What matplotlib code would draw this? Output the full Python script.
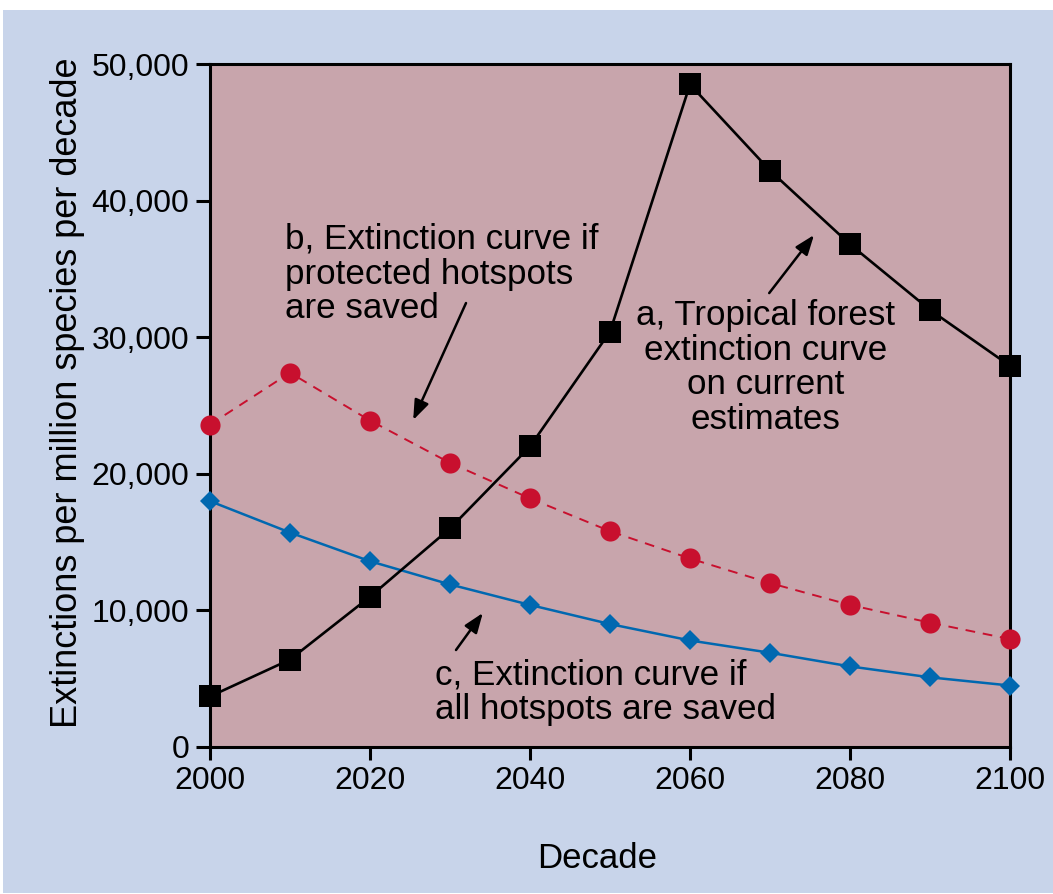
import matplotlib
matplotlib.use("Agg")
import matplotlib.pyplot as plt
from matplotlib.patches import Rectangle
from matplotlib.ticker import FuncFormatter

plt.rcParams['font.family'] = ['Liberation Sans', 'DejaVu Sans']

decades = [2000, 2010, 2020, 2030, 2040, 2050, 2060, 2070, 2080, 2090, 2100]
tropical_current = [3700, 6400, 11000, 16000, 22000, 30400, 48500, 42200, 36800, 32000, 27900]
protected_saved = [23600, 27400, 23900, 20800, 18200, 15800, 13800, 12000, 10400, 9100, 7900]
all_saved = [18000, 15700, 13600, 11900, 10400, 9000, 7800, 6900, 5900, 5100, 4500]

x_ticks = [2000, 2020, 2040, 2060, 2080, 2100]
y_ticks = [0, 10000, 20000, 30000, 40000, 50000]

label_a = "a, Tropical forest\nextinction curve\non current\nestimates"
label_b = "b, Extinction curve if\nprotected hotspots\nare saved"
label_c = "c, Extinction curve if\nall hotspots are saved"

W, H = 1053, 894
fig = plt.figure(figsize=(W / 100, H / 100), dpi=100)
fig.patch.set_facecolor('white')
fig.patches.append(Rectangle((3 / W, 1 / H), 1 - 3 / W, (893 - 10) / H,
                             transform=fig.transFigure, facecolor='#C8D4EA',
                             edgecolor='none', zorder=-10))

ax = fig.add_axes([210 / W, 1 - 747 / H, 800 / W, 683 / H])
ax.set_facecolor('#C8A5AC')

ax.plot(decades, all_saved, color='#0068B0', lw=1.8, marker='D', ms=10,
        mew=0, clip_on=False, zorder=3)
ax.plot(decades, protected_saved, color='#C8102E', lw=1.4, ls=(0, (5, 4)),
        marker='o', ms=14.5, mew=0, clip_on=False, zorder=3)
ax.plot(decades, tropical_current, color='black', lw=1.9, marker='s', ms=15.5,
        mew=0, clip_on=False, zorder=4)

ax.set_xlim(2000, 2100)
ax.set_ylim(0, 50000)
ax.set_xticks(x_ticks)
ax.set_yticks(y_ticks)
ax.yaxis.set_major_formatter(FuncFormatter(lambda v, p: f"{int(v):,}"))

for s in ax.spines.values():
    s.set_linewidth(2.2)
ax.tick_params(axis='both', direction='out', width=2.2, labelsize=23, pad=5)
ax.tick_params(axis='y', length=10)
ax.tick_params(axis='x', length=9)

ax.set_xlabel('Decade', fontsize=25)
ax.xaxis.label.set_va('baseline')
ax.xaxis.set_label_coords((597 - 210) / 800, (747 - 868) / 683)
ax.set_ylabel('Extinctions per million species per decade', fontsize=26)
ax.yaxis.label.set_va('center')
ax.yaxis.set_label_coords((68 - 210) / 800, (747 - 393) / 683)

# va='baseline' aligns the last line's baseline
txt_kw = dict(fontsize=25.2, color='black', va='baseline', linespacing=1.06, zorder=5)
ax.text(2009.4, 31400, label_b, ha='left', multialignment='left', **txt_kw)
ax.text(2069.4, 23280, label_a, ha='center', multialignment='center', **txt_kw)
ax.text(2028.1, 2050, label_c, ha='left', multialignment='left', **txt_kw)

arrow_kw = dict(arrowstyle='-|>,head_length=0.8,head_width=0.3', color='black',
                lw=1.8, shrinkA=0, shrinkB=0, mutation_scale=15)
ax.annotate('', xy=(2025.4, 23940), xytext=(2032.0, 32500), arrowprops=arrow_kw)
ax.annotate('', xy=(2075.5, 37480), xytext=(2069.9, 33230), arrowprops=arrow_kw)
ax.annotate('', xy=(2034.1, 9810), xytext=(2030.75, 7100), arrowprops=arrow_kw)

fig.savefig('out.png', dpi=100, facecolor='white')
